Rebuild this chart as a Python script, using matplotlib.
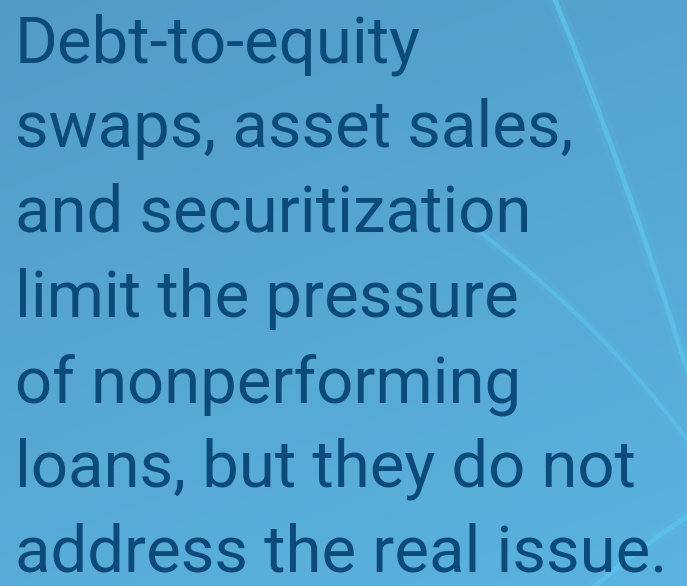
import matplotlib.pyplot as plt
import numpy as np
from matplotlib.colors import LinearSegmentedColormap

lines = [
    "Debt-to-equity",
    "swaps, asset sales,",
    "and securitization",
    "limit the pressure",
    "of nonperforming",
    "loans, but they do not",
    "address the real issue.",
]

W, H = 687, 586
fig = plt.figure(figsize=(W / 100, H / 100), dpi=100)
ax = fig.add_axes([0, 0, 1, 1])
ax.set_xlim(0, W)
ax.set_ylim(H, 0)
ax.axis("off")

# background gradient: darker top-left, lighter bottom-right
yy, xx = np.mgrid[0:H, 0:W]
t = (yy / H) * 0.7 + (xx / W) * 0.3
cmap = LinearSegmentedColormap.from_list("bg", ["#529bc9", "#5bb3df"])
ax.imshow(t, cmap=cmap, extent=(0, W, H, 0), aspect="auto", zorder=0)


def bezier(p0, p1, p2, n=80):
    s = np.linspace(0, 1, n)[:, None]
    p = (1 - s) ** 2 * np.array(p0) + 2 * (1 - s) * s * np.array(p1) + s ** 2 * np.array(p2)
    return p[:, 0], p[:, 1]


# light streaks with soft glow
streak = "#5ec4ec"
for p0, p1, p2, w, a in [
    ((555, 0), (625, 170), (695, 395), 3.5, 0.75),
    ((470, 225), (600, 320), (695, 450), 3.0, 0.6),
    ((580, 600), (640, 545), (695, 512), 3.5, 0.75),
]:
    x, y = bezier(p0, p1, p2)
    ax.plot(x, y, color=streak, lw=w * 3, alpha=a * 0.2, solid_capstyle="round", zorder=1)
    ax.plot(x, y, color=streak, lw=w, alpha=a, solid_capstyle="round", zorder=1)

y0, step = 62, 85
for i, s in enumerate(lines):
    ax.text(15, y0 + i * step, s, fontsize=47, family="Roboto",
            color="#0b4a79", va="baseline", ha="left", zorder=3)

fig.savefig("out.png", dpi=100)
